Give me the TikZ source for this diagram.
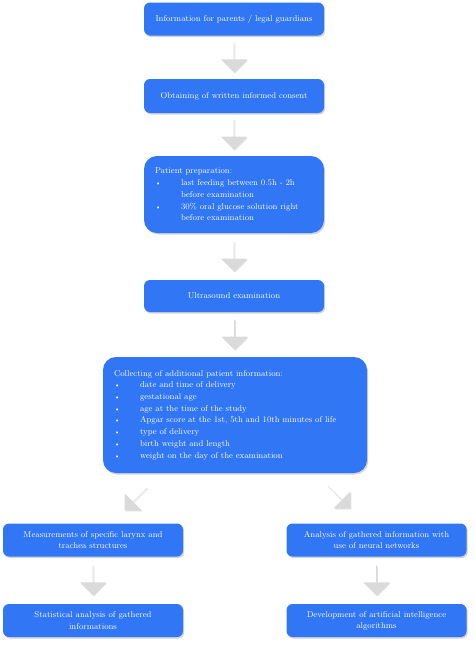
\documentclass[tikz,border=0pt]{standalone}
\usetikzlibrary{shapes.arrows,shadows,calc}

\definecolor{boxblue}{RGB}{48,118,245}
\definecolor{arrowgray}{RGB}{218,218,218}

\tikzset{
  stepbox/.style={draw=none, fill=boxblue, text=white, rounded corners=6pt,
    minimum width=180pt, minimum height=33pt, align=center, inner sep=3pt,
    font=\fontsize{8.5}{11.2}\selectfont,
    drop shadow={shadow xshift=1.2pt, shadow yshift=-1.5pt, opacity=0.35}},
  listbox/.style={stepbox, rounded corners=13pt, align=left, inner xsep=11pt,
    font=\fontsize{8.5}{11.7}\selectfont},
  blockarrow/.style={single arrow, draw=none, fill=arrowgray,
    minimum height=30pt, minimum width=26pt, single arrow head extend=7pt,
    single arrow head indent=0pt, inner sep=0pt, rotate=#1,
    drop shadow={shadow xshift=1pt, shadow yshift=-1pt, opacity=0.25}}
}

\newcommand{\itm}{\makebox[26pt][l]{\scriptsize\textbullet}}
\newcommand{\cnt}{\hspace*{26pt}}

\begin{document}
\begin{tikzpicture}[x=1pt,y=1pt,yscale=-1,xscale=1]
		\useasboundingbox (0,0) rectangle (474,645);
		
		%Shape: Rounded Rectangle [id:info]
		\node (info) [stepbox] at (234,19) {Information for parents / legal guardians};
		%Shape: Rounded Rectangle [id:consent]
		\node (consent) [stepbox, minimum height=34pt] at (234,96) {Obtaining of written informed consent};
		%Shape: Rounded Rectangle [id:prep]
		\node (prep) [listbox, minimum height=77pt, text width=158pt] at (234,194.5) {Patient preparation:\\
			\itm last feeding between 0.5h - 2h\\
			\cnt before examination\\
			\itm 30\% oral glucose solution right\\
			\cnt before examination};
		%Shape: Rounded Rectangle [id:usound]
		\node (usound) [stepbox, minimum height=32pt] at (234,296) {Ultrasound examination};
		%Shape: Rounded Rectangle [id:collect]
		\node (collect) [listbox, minimum width=264pt, minimum height=116pt, text width=242pt] at (235,415) {Collecting of additional patient information:\\
			\itm date and time of delivery\\
			\itm gestational age\\
			\itm age at the time of the study\\
			\itm Apgar score at the 1st, 5th and 10th minutes of life\\
			\itm type of delivery\\
			\itm birth weight and length\\
			\itm weight on the day of the examination};
		%Shape: Rounded Rectangle [id:measure]
		\node (measure) [stepbox] at (93,540) {Measurements of specific larynx and\\trachea structures};
		%Shape: Rounded Rectangle [id:stats]
		\node (stats) [stepbox] at (93,620.5) {Statistical analysis of gathered\\informations};
		%Shape: Rounded Rectangle [id:neural]
		\node (neural) [stepbox] at (376.5,540) {Analysis of gathered information with\\use of neural networks};
		%Shape: Rounded Rectangle [id:aialg]
		\node (aialg) [stepbox] at (376.5,620.5) {Development of artificial intelligence\\algorithms};
		
		%Shape: Down Arrows
		\node (a1) [blockarrow=-90] at ($(info.south)!0.5!(consent.north)$) {};
		\node (a2) [blockarrow=-90] at ($(consent.south)!0.5!(prep.north)$) {};
		\node (a3) [blockarrow=-90] at ($(prep.south)!0.5!(usound.north)$) {};
		\node (a4) [blockarrow=-90] at ($(usound.south)!0.5!(collect.north)$) {};
		%Shape: Diagonal Arrows
		\node (a5) [blockarrow=-135, minimum height=32pt, minimum width=24pt] at (136,499) {};
		\node (a6) [blockarrow=-45, minimum height=32pt, minimum width=24pt] at (339,497) {};
		%Shape: Down Arrows (lower row)
		\node (a7) [blockarrow=-90] at ($(measure.south)!0.5!(stats.north)$) {};
		\node (a8) [blockarrow=-90] at ($(neural.south)!0.5!(aialg.north)$) {};
	\end{tikzpicture}
\end{document}
